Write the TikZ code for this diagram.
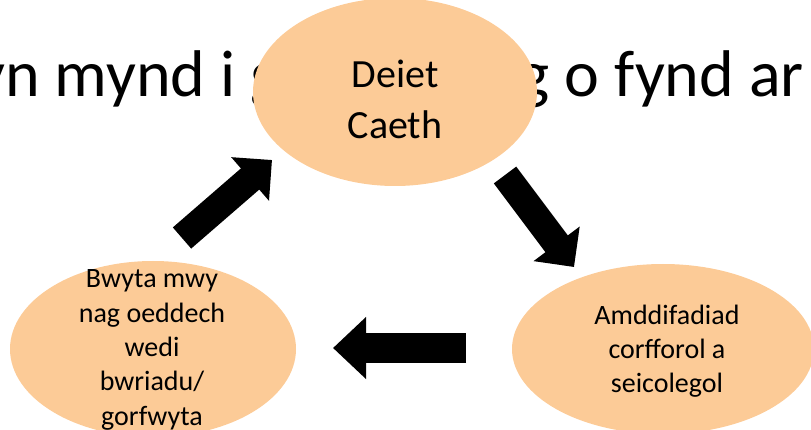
\documentclass[tikz,border=0pt]{standalone}
\usepackage{fontspec}
\setmainfont{Carlito}
\usetikzlibrary{arrows.meta,shapes.geometric}
\definecolor{peach}{HTML}{FCCB97}
\tikzset{
  bubble/.style={ellipse, fill=peach, draw=none, inner sep=0pt},
  bigtxt/.style={font=\fontsize{66}{70}\selectfont, inner sep=0pt},
  toptxt/.style={font=\fontsize{40}{51}\selectfont, align=center, inner sep=0pt},
  smalltxt/.style={font=\fontsize{28}{34.3}\selectfont, align=center, inner sep=0pt},
  blockarrow/.style={line width=28pt, -{Triangle[length=29pt,width=56pt]}}
}
\begin{document}
\begin{tikzpicture}[x=1pt,y=-1pt]
\useasboundingbox (0,0) rectangle (811,430);
\clip (0,0) rectangle (811,430);
% background title fragments
\node[bigtxt, anchor=base west] (t1) at (-25,97) {yn mynd i g};
\node[bigtxt, anchor=base east] (t2) at (804,97) {g o fynd ar};
% ellipses
\node[bubble, minimum width=284pt, minimum height=188pt] (top) at (395,92) {};
\node[bubble, minimum width=286pt, minimum height=176pt] (left) at (153,349) {};
\node[bubble, minimum width=302pt, minimum height=170pt] (right) at (663,349) {};
% texts
\node[toptxt] (ttop) at (395,99) {Deiet\\Caeth};
\node[smalltxt] (tleft) at (152,350) {Bwyta mwy\\nag oeddech\\wedi\\bwriadu/\\gorfwyta};
\node[smalltxt] (tright) at (667,351) {Amddifadiad\\corfforol a\\seicolegol};
% arrows
\coordinate (a1s) at (182,238);
\coordinate (a1e) at (272,160);
\coordinate (a2s) at (505,175);
\coordinate (a2e) at (574,267);
\coordinate (a3s) at (466,348);
\coordinate (a3e) at (333,348);
\draw[blockarrow] (a1s) -- (a1e);
\draw[blockarrow] (a2s) -- (a2e);
\draw[blockarrow, line width=30pt, -{Triangle[length=33pt,width=60pt]}] (a3s) -- (a3e);
\end{tikzpicture}
\end{document}
